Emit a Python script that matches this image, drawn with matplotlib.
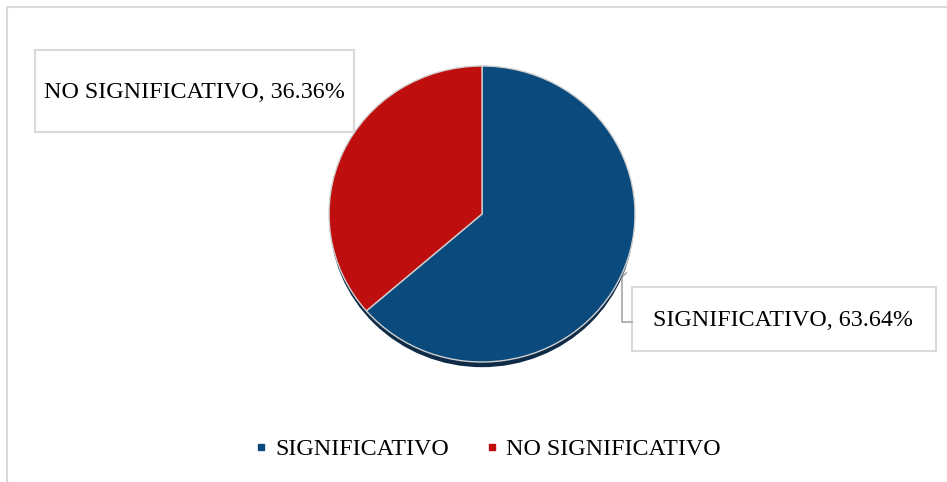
import matplotlib
matplotlib.use('Agg')
import matplotlib.pyplot as plt
from matplotlib.lines import Line2D
from matplotlib.patches import Ellipse, Rectangle

# data
labels = ['SIGNIFICATIVO', 'NO SIGNIFICATIVO']
values = [63.64, 36.36]
colors = ['#0B4A7C', '#BF0E0E']

W, H = 947, 482
plt.rcParams['font.family'] = ['Liberation Serif', 'DejaVu Serif']

fig = plt.figure(figsize=(W / 100, H / 100), dpi=100)

# background axes in pixel coordinates (y down)
bg = fig.add_axes([0, 0, 1, 1])
bg.set_xlim(0, W)
bg.set_ylim(H, 0)
bg.axis('off')

# chart frame (top and left visible)
bg.add_patch(Rectangle((7, 7), 960, 500, fill=False, edgecolor='#D9D9D9', lw=1.5))

# pie in its own axes, slightly wider than tall
cx, cy, rx, ry = 482, 214, 153, 148
pax = fig.add_axes([(cx - rx) / W, 1 - (cy + ry) / H, 2 * rx / W, 2 * ry / H])
pax.axis('off')

# shadow under the pie
pax.add_patch(Ellipse((0, -0.035), 1.99, 2.0, facecolor='#0E2B47', edgecolor='none',
                      zorder=0, clip_on=False))
wedges, _ = pax.pie(values, colors=colors, startangle=90, counterclock=False,
                    radius=1, wedgeprops=dict(edgecolor='#D0D0D0', linewidth=1))
for w in wedges:
    w.set_clip_on(False)
pax.set_xlim(-1, 1)
pax.set_ylim(-1, 1)
pax.set_aspect('auto')

# data label boxes
fs = 17.3
bg.add_patch(Rectangle((35, 50), 319, 82, facecolor='white', edgecolor='#D9D9D9', lw=1.5))
bg.text(194, 92, '{}, {:.2f}%'.format(labels[1], values[1]), ha='center', va='center',
        fontsize=fs, color='black')
bg.add_patch(Rectangle((632, 287), 304, 64, facecolor='white', edgecolor='#D9D9D9', lw=1.5))
bg.text(783, 321, '{}, {:.2f}%'.format(labels[0], values[0]), ha='center', va='center',
        fontsize=fs, color='black')
# leader line
bg.plot([626, 622, 622, 632], [273, 277, 322, 322], color='#A6A6A6', lw=1.2)

# legend
handles = [Line2D([], [], marker='s', ls='', color=c, markersize=5) for c in colors]
fig.legend(handles, labels, loc='center', bbox_to_anchor=(488 / W, 1 - 449 / H),
           ncol=2, frameon=False, fontsize=fs, handlelength=0.5, handletextpad=0.35,
           columnspacing=1.5)

fig.savefig('out.png', dpi=100)
